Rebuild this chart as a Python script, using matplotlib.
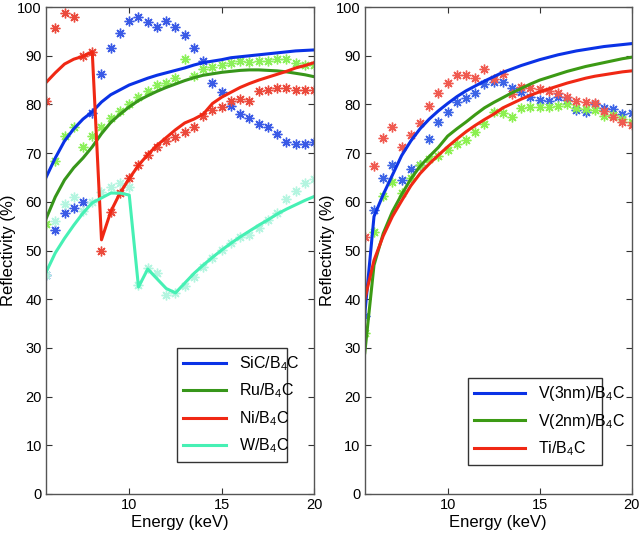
import numpy as np
import matplotlib
matplotlib.use('Agg')
import matplotlib.pyplot as plt

plt.rcParams['font.family'] = ['Liberation Sans', 'DejaVu Sans']
plt.rcParams['mathtext.default'] = 'regular'

# energy grid (keV), 0.5 keV steps
energy = np.arange(5.5, 20.01, 0.5)

# left panel - calculated curves
sic_line = [65, 69, 72.5, 75, 77, 78.5, 80.5, 82, 83, 84, 84.7, 85.4, 86, 86.5, 87,
            87.5, 88.1, 88.6, 88.9, 89.2, 89.6, 89.8, 90.0, 90.2, 90.4, 90.6, 90.8, 91.0, 91.1, 91.2]
ru_line = [56.5, 61, 64.5, 67, 69, 71.3, 74, 76.3, 78, 79.5, 80.8, 81.8, 82.7, 83.5, 84.2,
           84.9, 85.5, 86, 86.3, 86.6, 86.8, 87, 87.1, 87.1, 87.0, 86.9, 86.7, 86.4, 86.1, 85.7]
ni_line = [84.5, 86.5, 88.3, 89.3, 89.9, 90.8, 52.2, 58, 61.8, 64.8, 67.5, 69.7, 71.6, 73.2, 74.8,
           76.2, 77, 78, 80.2, 81.5, 82.5, 83.5, 84.3, 85, 85.6, 86.2, 86.8, 87.5, 88, 88.6]
w_line = [45.5, 49.5, 52.5, 55.2, 57.7, 59.8, 60.8, 61.8, 61.8, 61.4, 42.5, 46.2, 44.2, 42.2, 41.3,
          43.3, 45.3, 47, 48.6, 50.1, 51.5, 52.8, 54, 55.2, 56.3, 57.5, 58.5, 59.4, 60.3, 61.1]

# left panel - measured points
sic_meas = [45.0, 54.3, 57.8, 58.7, 60.0, 78.3, 86.2, 91.5, 94.6, 97.1, 97.9, 96.9, 95.9, 97.1, 95.9,
            94.2, 91.5, 88.9, 84.4, 82.6, 79.7, 78.0, 77.2, 76.0, 75.3, 73.9, 72.3, 71.9, 71.9, 72.3]
ru_meas = [55.5, 68.4, 73.5, 75.4, 71.3, 73.5, 75.4, 77.2, 78.6, 80.1, 81.5, 82.8, 84.0, 84.4, 85.4,
           89.3, 85.8, 87.2, 87.6, 88.1, 88.5, 88.9, 88.7, 88.9, 88.9, 89.3, 89.3, 88.5, 88.1, 88.1]
ni_meas = [80.7, 95.7, 98.8, 97.9, 89.9, 90.8, 49.9, 57.9, 61.8, 64.9, 67.6, 69.6, 71.3, 72.5, 73.3,
           74.3, 75.4, 77.6, 78.8, 79.5, 80.7, 81.1, 80.7, 82.8, 83.0, 83.3, 83.3, 83.0, 83.0, 83.0]
w_meas = [45.0, 56, 59.5, 61.0, 58.2, 60.0, 62.1, 63.1, 63.9, 63.1, 43, 46.4, 45.4, 40.9, 41.3,
          42.7, 44.6, 46.6, 48.5, 50.1, 51.5, 52.8, 53.2, 54.6, 56.3, 57.7, 60.6, 62.2, 63.9, 64.7]

# right panel - calculated curves
v3_line = [37, 57, 61.5, 65.5, 69.5, 72.5, 75, 77, 78.7, 80.2, 81.6, 82.8, 83.8, 84.8, 85.7,
           86.6, 87.3, 88, 88.6, 89.2, 89.7, 90.2, 90.6, 91.0, 91.3, 91.6, 91.9, 92.1, 92.3, 92.5]
v2_line = [29, 47, 53.5, 58, 61.5, 64.7, 67.3, 69.3, 71.2, 73.5, 75, 76.4, 77.9, 79.3, 80.4,
           81.4, 82.4, 83.3, 84.2, 85.0, 85.6, 86.2, 86.8, 87.3, 87.8, 88.2, 88.6, 89.0, 89.4, 89.7]
ti_line = [40, 48, 53, 57, 60.2, 63.3, 65.8, 67.8, 69.6, 71.3, 72.9, 74.4, 75.7, 76.9, 78.0,
           79.3, 80.2, 81.1, 81.9, 82.6, 83.2, 83.8, 84.4, 84.9, 85.4, 85.8, 86.1, 86.4, 86.7, 86.9]

# right panel - measured points
v3_meas = [36.5, 58.3, 65.0, 67.6, 64.5, 66.7, 67.6, 73.0, 76.4, 78.5, 80.6, 81.3, 82.3, 84.3, 84.6,
           84.7, 83.3, 82.6, 81.5, 81.0, 80.8, 81.6, 81.0, 78.9, 78.5, 80.1, 79.2, 79.0, 78.0, 78.2]
v2_meas = [33.1, 53.9, 61.2, 64.1, 61.9, 65, 67.5, 68.9, 69.4, 70.6, 71.9, 72.8, 74.4, 76.0, 78.4,
           78.3, 77.5, 79.3, 79.4, 79.4, 79.4, 79.7, 80.1, 79.2, 79.0, 78.9, 77.6, 77.8, 77.1, 76.4]
ti_meas = [52.8, 67.4, 73.2, 75.3, 71.2, 73.7, 76.2, 79.7, 82.4, 84.5, 86.0, 86.0, 85.5, 87.2, 85.2,
           86.2, 82.1, 83.6, 83.3, 83.1, 82.8, 82.4, 81.6, 80.8, 80.6, 80.2, 78.6, 77.5, 76.4, 75.8]

STAR = (8, 2, 0)

fig = plt.figure(figsize=(6.4, 5.41), dpi=100)
ax1 = fig.add_axes([0.0719, 0.0869, 0.419, 0.900])
ax2 = fig.add_axes([0.570, 0.0869, 0.417, 0.900])

# left panel
left_sets = [
    (sic_meas, sic_line, '#3a5ae6', '#0a32e6', 'SiC/B$_4$C'),
    (ru_meas, ru_line, '#8cf05a', '#37961a', 'Ru/B$_4$C'),
    (ni_meas, ni_line, '#eb4a3c', '#f02814', 'Ni/B$_4$C'),
    (w_meas, w_line, '#b4f5e0', '#46f0b4', 'W/B$_4$C'),
]
for meas, line, mc, lc, lab in left_sets:
    ax1.plot(energy, meas, linestyle='none', marker=STAR, markersize=7,
             markeredgewidth=1.0, color=mc)
for meas, line, mc, lc, lab in left_sets:
    ax1.plot(energy, line, color=lc, linewidth=2.2, label=lab)

# right panel
right_sets = [
    (v3_meas, v3_line, '#3c64e6', '#0a32e6', 'V(3nm)/B$_4$C'),
    (v2_meas, v2_line, '#8cf050', '#3c9a14', 'V(2nm)/B$_4$C'),
    (ti_meas, ti_line, '#f05a50', '#f02814', 'Ti/B$_4$C'),
]
for meas, line, mc, lc, lab in right_sets:
    ax2.plot(energy, meas, linestyle='none', marker=STAR, markersize=7,
             markeredgewidth=1.0, color=mc)
for meas, line, mc, lc, lab in right_sets:
    ax2.plot(energy, line, color=lc, linewidth=2.2, label=lab)

for ax in (ax1, ax2):
    ax.set_xlim(5.5, 20)
    ax.set_ylim(0, 100)
    ax.set_xticks([10, 15, 20])
    ax.set_yticks(np.arange(0, 101, 10))
    ax.tick_params(direction='in', top=True, right=True, length=4, width=0.8,
                   labelsize=10.5, colors='#333333', labelcolor='black', pad=3)
    for sp in ax.spines.values():
        sp.set_color('#555555')
        sp.set_linewidth(1.0)
    ax.set_xlabel('Energy (keV)', fontsize=12, labelpad=2)
    ax.set_ylabel('Reflectivity (%)', fontsize=12, labelpad=1)

leg1 = ax1.legend(loc='lower left', bbox_to_anchor=(0.488, 0.066, 0.411, 0.224), mode='expand',
                  fontsize=11.5, handlelength=2.7, fancybox=False, framealpha=1,
                  borderaxespad=0, labelspacing=0.55)
leg1.get_frame().set_edgecolor('#333333')
leg2 = ax2.legend(loc='lower left', bbox_to_anchor=(0.386, 0.06, 0.502, 0.168), mode='expand',
                  fontsize=11.5, handlelength=3.2, fancybox=False, framealpha=1,
                  borderaxespad=0, labelspacing=0.55)
leg2.get_frame().set_edgecolor('#333333')

fig.savefig('out.png', dpi=100)
